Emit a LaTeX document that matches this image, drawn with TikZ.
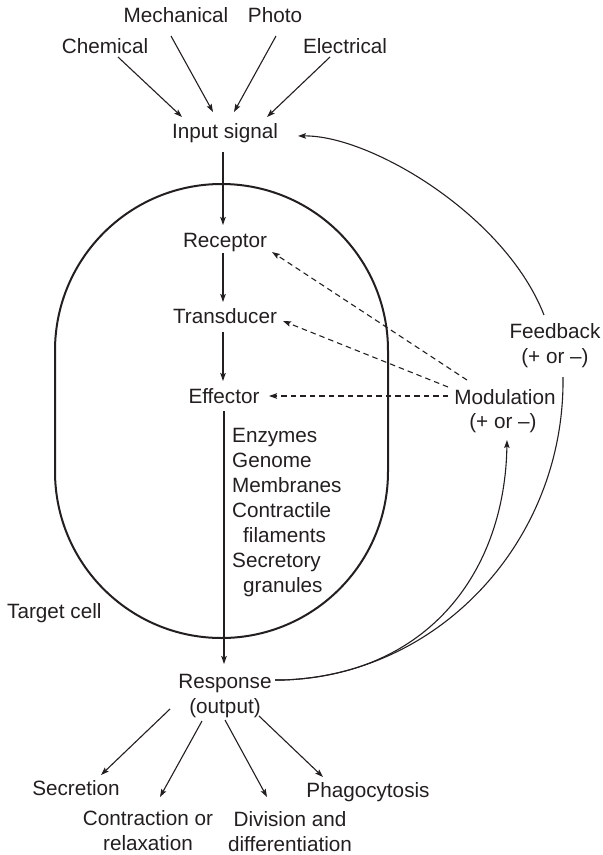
\documentclass[tikz,border=0pt]{standalone}
\usepackage{fontspec}
\setmainfont{Liberation Sans}
\usetikzlibrary{arrows.meta,calc}
\definecolor{ink}{HTML}{231F20}
\begin{document}
\begin{tikzpicture}[x=1pt,y=-1pt,
  lbl/.style={inner sep=0pt, anchor=base, text=ink, font=\fontsize{20.7pt}{25pt}\selectfont},
  tipped/.style={-{Stealth[length=8pt,width=5.5pt,inset=1.5pt]}},
  wire/.style={draw=ink, line width=1.1pt},
  arr/.style={wire, tipped},
  dsh/.style={arr, dash pattern=on 5.5pt off 4pt},
  cellwall/.style={draw=ink, line width=2pt}]
\useasboundingbox (0,0) rectangle (603,855);

% target cell
\draw[cellwall] (55,350.5) -- (55,471.5)
  arc[start angle=180, end angle=360, radius=166.5pt] -- (388,350.5)
  arc[start angle=0, end angle=180, radius=166.5pt] -- cycle;

% labels
\node[lbl] (mech) at (176,22) {Mechanical};
\node[lbl] (photo) at (275,22) {Photo};
\node[lbl] (chem) at (105,53) {Chemical};
\node[lbl] (elec) at (345,53) {Electrical};
\node[lbl] (input) at (225,138) {Input signal};
\node[lbl] (rec) at (225,247) {Receptor};
\node[lbl] (trans) at (225,323) {Transducer};
\node[lbl] (eff) at (224,403) {Effector};
\node[lbl] (mod) at (505,404) {Modulation};
\node[lbl] (modpm) at (503,428) {(+ or –)};
\node[lbl] (fb) at (555,338) {Feedback};
\node[lbl] (fbpm) at (555,363) {(+ or –)};
\node[lbl,anchor=base west] (l1) at (232,442) {Enzymes};
\node[lbl,anchor=base west] (l2) at (232,467) {Genome};
\node[lbl,anchor=base west] (l3) at (232,492) {Membranes};
\node[lbl,anchor=base west] (l4) at (232,517) {Contractile};
\node[lbl,anchor=base west] (l5) at (243,542) {filaments};
\node[lbl,anchor=base west] (l6) at (232,567) {Secretory};
\node[lbl,anchor=base west] (l7) at (243,592) {granules};
\node[lbl,anchor=base west] (tc) at (7,618) {Target cell};
\node[lbl] (resp) at (225,688) {Response};
\node[lbl] (respout) at (225,713) {(output)};
\node[lbl] (sec) at (76,795) {Secretion};
\node[lbl] (con1) at (148,825) {Contraction or};
\node[lbl] (con2) at (148,850) {relaxation};
\node[lbl] (div1) at (290,826) {Division and};
\node[lbl] (div2) at (290,851) {differentiation};
\node[lbl] (phago) at (368,797) {Phagocytosis};

% input arrows
\draw[arr] ([shift={(13,4)}]chem.base) -- ([shift={(-43,-21)}]input.base);
\draw[arr] ([shift={(-5,14)}]mech.base) -- ([shift={(-12,-26)}]input.base);
\draw[arr] ([shift={(1,14)}]photo.base) -- ([shift={(9,-26)}]input.base);
\draw[arr] ([shift={(-15,4)}]elec.base) -- ([shift={(42,-21)}]input.base);

% main chain
\draw[arr] ([shift={(-2,14)}]input.base) -- ([shift={(-2,-22)}]rec.base);
\draw[arr] ([shift={(-2,6)}]rec.base) -- ([shift={(-2,-21)}]trans.base);
\draw[arr] ([shift={(-2,9)}]trans.base) -- ([shift={(-1,-22)}]eff.base);
\draw[arr] ([shift={(0,8)}]eff.base) -- ([shift={(-1,-24)}]resp.base);

% modulation (dashed)
\draw[dsh] ([shift={(-38,-24)}]mod.base) -- ([shift={(47,5)}]rec.base);
\draw[dsh] ([shift={(-57,-17)}]mod.base) -- ([shift={(58,-2)}]trans.base);
\draw[dsh] ([shift={(-57,-8)}]mod.base) -- ([shift={(45,-7)}]eff.base);

% response curves
\coordinate (rs) at ([shift={(50,-8)}]resp.base);
\draw[arr] (rs) -- ++(8,0) .. controls (430,675) and (505,570) .. ([shift={(4,12)}]modpm.base);
\draw[wire] (rs) -- ++(8,0) .. controls (440,675) and (565,540) .. ([shift={(8,14)}]fbpm.base);

% feedback to input
\draw[arr] ([shift={(-11,-23)}]fb.base) .. controls (505,215) and (370,135) .. ([shift={(73,-2)}]input.base);

% outputs
\draw[arr] ([shift={(-55,21)}]resp.base) -- ([shift={(25,-20)}]sec.base);
\draw[arr] ([shift={(-23,33)}]resp.base) -- ([shift={(12,-28)}]con1.base);
\draw[arr] ([shift={(0,32)}]resp.base) -- ([shift={(-23,-29)}]div1.base);
\draw[arr] ([shift={(34,28)}]resp.base) -- ([shift={(-45,-20)}]phago.base);
\end{tikzpicture}
\end{document}
